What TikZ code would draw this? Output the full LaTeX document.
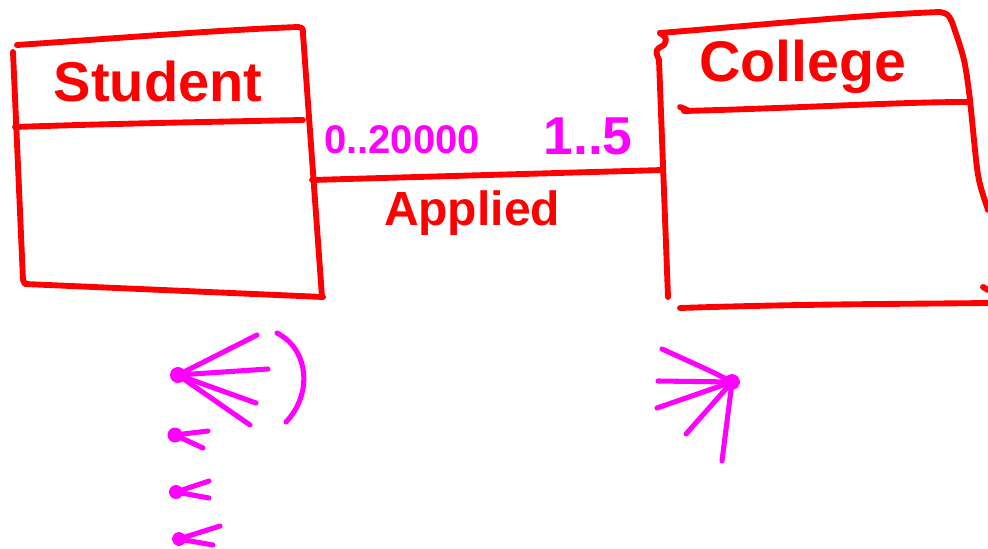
\documentclass[tikz,border=0pt]{standalone}
\usepackage{fontspec}
\setmainfont{Liberation Sans}
\begin{document}
\begin{tikzpicture}[x=0.75pt,y=-0.75pt,
  redline/.style={draw=red,line width=4.4pt,line cap=round,line join=round},
  pinkline/.style={draw=magenta,line width=3.8pt,line cap=round,line join=round},
  pinkdot/.style={fill=magenta},
  redtext/.style={text=red,inner sep=0pt},
  pinktext/.style={text=magenta,inner sep=0pt}]
\definecolor{red}{RGB}{255,0,0}
\definecolor{magenta}{RGB}{255,0,255}
\useasboundingbox (0,0) rectangle (988,549);
% Student box
\draw[redline] (17,45) .. controls (120,38) and (220,30) .. (298,27) .. controls (303,28) .. (303,34) -- (322,297);
\draw[redline] (13,52) -- (23,280) -- (25,284) -- (323,297);
\draw[redline] (15,127) .. controls (100,124) and (200,122) .. (303,120);
\node[redtext,font=\fontsize{42}{48}\selectfont\bfseries] (student) at (158,81) {Student};
% College box
\draw[redline] (660,33) .. controls (760,25) and (860,15) .. (940,12) .. controls (948,14) .. (952,22)
  .. controls (965,60) .. (970,100) -- (974,140) .. controls (978,180) .. (988,210);
\draw[redline] (660,33) .. controls (667,38) .. (664,45) .. controls (655,50) .. (659,60) -- (668,297);
\draw[redline] (680,107) .. controls (690,111) .. (684,111) .. controls (800,108) and (900,102) .. (967,102);
\draw[redline] (680,308) .. controls (800,304) and (900,304) .. (988,303);
\draw[redline] (983,287) -- (988,290);
\node[redtext,font=\fontsize{43}{48}\selectfont\bfseries] (college) at (803,67) {College};
% association
\coordinate (sR) at (312,180);
\coordinate (cL) at (663,170);
\draw[redline] (sR) -- (cL);
\node[redtext,font=\fontsize{36}{42}\selectfont\bfseries] (applied) at (472,213) {Applied};
\node[pinktext,font=\fontsize{30}{34}\selectfont\bfseries] (m1) at (402,140) {0..20000};
\node[pinktext,font=\fontsize{40}{44}\selectfont\bfseries] (m2) at (588,136) {1..5};
% many-marks near Student
\coordinate (d1) at (178,375);
\fill[pinkdot] (d1) circle (8);
\draw[pinkline] (d1) -- (257,335);
\draw[pinkline] (d1) -- (268,369);
\draw[pinkline] (d1) -- (256,403);
\draw[pinkline] (d1) -- (250,425);
\draw[pinkline] (277,333) .. controls (310,350) and (312,395) .. (286,422);
\coordinate (d2) at (175,435);
\fill[pinkdot] (d2) circle (7.5);
\draw[pinkline] (d2) -- (208,431);
\draw[pinkline] (d2) -- (203,448);
\coordinate (d3) at (176,492);
\fill[pinkdot] (d3) circle (7);
\draw[pinkline] (d3) -- (209,481);
\draw[pinkline] (d3) -- (209,498);
\coordinate (d4) at (179,539);
\draw[pinkline] (d4) circle (4.5);
\draw[pinkline] (d4) -- (220,526);
\draw[pinkline] (d4) -- (213,545);
% many-marks near College
\coordinate (d5) at (732,382);
\draw[pinkline] (d5) circle (5.5);
\draw[pinkline] (d5) .. controls (715,373) .. (662,349);
\draw[pinkline] (d5) -- (658,381);
\draw[pinkline] (d5) -- (657,408);
\draw[pinkline] (d5) -- (686,434);
\draw[pinkline] (d5) -- (722,461);
\end{tikzpicture}
\end{document}
